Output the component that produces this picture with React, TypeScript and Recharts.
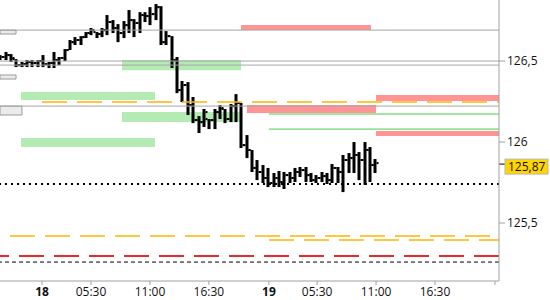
import React from 'react';
import { ComposedChart, Bar, XAxis, YAxis, ReferenceLine, ReferenceArea } from 'recharts';

// 30-minute OHLC bars (index = bar slot)
const highs = [126.537,126.556,126.543,126.512,126.494,126.506,126.506,126.506,126.537,126.494,126.556,126.525,126.574,126.630,126.648,126.654,126.679,126.704,126.679,126.704,126.784,126.753,126.728,126.747,126.815,126.759,126.802,126.802,126.833,126.852,126.839,126.685,126.654,126.525,126.377,126.370,126.278,126.160,126.204,126.142,126.204,126.228,126.204,126.235,126.296,126.241,126.043,125.951,125.889,125.858,125.840,125.809,125.821,125.815,125.815,125.840,125.846,125.846,125.809,125.796,125.815,125.809,125.864,125.846,125.920,125.932,126.000,125.938,126.000,125.969,125.895];
const lows = [126.506,126.506,126.494,126.463,126.463,126.463,126.463,126.463,126.463,126.457,126.457,126.475,126.500,126.568,126.599,126.599,126.642,126.660,126.642,126.648,126.660,126.673,126.617,126.642,126.673,126.648,126.673,126.741,126.722,126.753,126.599,126.599,126.457,126.302,126.247,126.167,126.117,126.056,126.093,126.080,126.080,126.142,126.117,126.123,126.123,125.963,125.901,125.815,125.765,125.747,125.722,125.722,125.722,125.710,125.747,125.753,125.784,125.753,125.753,125.747,125.753,125.741,125.747,125.747,125.691,125.809,125.809,125.765,125.735,125.753,125.809];
const opens = [126.525,126.525,126.537,126.512,126.475,126.481,126.494,126.488,126.500,126.481,126.488,126.506,126.519,126.568,126.617,126.630,126.648,126.673,126.679,126.667,126.691,126.741,126.704,126.673,126.722,126.753,126.735,126.784,126.778,126.790,126.833,126.617,126.654,126.506,126.321,126.352,126.228,126.136,126.123,126.142,126.136,126.185,126.204,126.142,126.222,126.241,125.981,125.951,125.840,125.815,125.778,125.747,125.778,125.753,125.796,125.778,125.815,125.827,125.796,125.765,125.778,125.790,125.765,125.840,125.815,125.889,125.901,125.920,125.889,125.951,125.858];
const closes = [126.525,126.537,126.519,126.475,126.481,126.494,126.488,126.500,126.481,126.488,126.506,126.519,126.568,126.617,126.630,126.648,126.673,126.691,126.667,126.691,126.741,126.704,126.673,126.722,126.753,126.735,126.784,126.778,126.790,126.833,126.617,126.654,126.506,126.321,126.352,126.228,126.136,126.123,126.185,126.136,126.185,126.210,126.142,126.222,126.241,125.981,125.951,125.840,125.815,125.778,125.747,125.778,125.753,125.796,125.778,125.815,125.827,125.796,125.765,125.778,125.790,125.765,125.840,125.815,125.889,125.901,125.920,125.889,125.951,125.858,125.870];

const tickPositions = [7.84, 16.99, 28.0, 39.0, 50.2, 59.2, 70.2, 81.2, 92.4];
const tickLabels = ['18', '05:30', '11:00', '16:30', '19', '05:30', '11:00', '16:30', ''];
const dayLabels = ['18', '19'];
const priceTicks = [125.5, 126, 126.5];
const lastPrice = 125.87;
const lastPriceLabel = '125,87';

const grayLevels = [126.691, 126.5, 126.475, 126.222];
const greenZoneX1 = [3.92, 3.92, 22.77, 22.77];
const greenZoneX2 = [28.93, 28.93, 44.99, 44.99];
const greenZoneTop = [126.309, 126.025, 126.506, 126.185];
const greenZoneBottom = [126.259, 125.969, 126.444, 126.123];
const redZoneX1 = [44.99, 46.1, 70.2, 70.2];
const redZoneX2 = [69.25, 70.2, 93.15, 93.15];
const redZoneTop = [126.722, 126.228, 126.290, 126.068];
const redZoneBottom = [126.691, 126.179, 126.253, 126.037];
const greenLineLevels = [126.173, 126.080];
const greenLineStart = 50.2;
const orangeLevels = [126.247, 125.420, 125.395];
const orangeStarts = [7.84, 1.87, 50.2];
const redDashLevel = 125.296;
const blackDashLevel = 125.259;
const dottedLevel = 125.741;
const boxX2 = [2.99, 2.99, 4.1];
const boxTop = [126.691, 126.414, 126.222];
const boxBottom = [126.667, 126.389, 126.167];

const X_MAX = 93.15;
const Y_MIN = 125.142;
const Y_MAX = 126.877;

const data = highs.map((h, i) => ({
  i,
  high: h,
  low: lows[i],
  open: opens[i],
  close: closes[i],
  range: [lows[i], h],
}));

const OhlcShape = (props: any) => {
  const { x, y, width, height, payload } = props;
  const top = Math.min(y, y + height);
  const h = Math.abs(height);
  const span = payload.high - payload.low;
  const k = span > 0 ? h / span : 0;
  const cx = Math.round(x + width / 2);
  const oy = top + (payload.high - payload.open) * k;
  const cy = top + (payload.high - payload.close) * k;
  return (
    <g fill="#000">
      <rect x={cx - 1.5} y={top} width={3} height={Math.max(h, 1)} />
      <rect x={cx - 3.5} y={oy - 1} width={2} height={2} />
      <rect x={cx + 1.5} y={cy - 1} width={2} height={2} />
    </g>
  );
};

const XTick = (props: any) => {
  const { x, y, index } = props;
  const label = tickLabels[index] ?? '';
  const bold = dayLabels.includes(label);
  return (
    <text x={x} y={y} dy="0.71em" textAnchor="middle" fontSize={12} fontFamily="Open Sans" fill="#111" fontWeight={bold ? 700 : 400}>
      {label}
    </text>
  );
};

const PriceTag = (props: any) => {
  const vb = props.viewBox || {};
  const right = (vb.x || 0) + (vb.width || 0);
  const yy = vb.y || 0;
  return (
    <g>
      <line x1={right} x2={right + 6} y1={yy + 1} y2={yy + 1} stroke="#000" strokeWidth={1} />
      <rect x={right + 6} y={yy - 4} width={43} height={15} fill="#ffd400" stroke="#b8b8b8" />
      <text x={right + 9} y={yy + 8} fontSize={12} fontFamily="Open Sans" fill="#111">{lastPriceLabel}</text>
    </g>
  );
};

export default function App() {
  return (
    <div style={{ position: 'absolute', left: 0, top: 0, background: '#fff' }}>
      <ComposedChart width={550} height={300} data={data} margin={{ top: 0, right: 0, bottom: 0, left: 0 }}>
        <XAxis
          dataKey="i"
          type="number"
          domain={[0, X_MAX]}
          allowDataOverflow
          ticks={tickPositions}
          interval={0}
          tick={<XTick />}
          tickSize={4}
          height={19}
          stroke="#a0a0a0"
          tickLine={{ stroke: '#a0a0a0' }}
          axisLine={{ stroke: '#a0a0a0' }}
        />
        <YAxis
          orientation="right"
          type="number"
          domain={[Y_MIN, Y_MAX]}
          allowDataOverflow
          ticks={priceTicks}
          interval={0}
          width={51}
          tickSize={6}
          tickFormatter={(v: number) => String(v).replace('.', ',')}
          tick={{ fill: '#111', fontSize: 12, fontFamily: 'Open Sans' }}
          tickLine={{ stroke: '#a0a0a0' }}
          axisLine={{ stroke: '#a0a0a0' }}
        />
        {greenZoneTop.map((t, k) => (
          <ReferenceArea key={'g' + k} x1={greenZoneX1[k]} x2={greenZoneX2[k]} y1={greenZoneBottom[k]} y2={t} fill="#b4ebb4" fillOpacity={1} stroke="none" />
        ))}
        {redZoneTop.map((t, k) => (
          <ReferenceArea key={'r' + k} x1={redZoneX1[k]} x2={redZoneX2[k]} y1={redZoneBottom[k]} y2={t} fill="#ff9494" fillOpacity={1} stroke="none" />
        ))}
        {grayLevels.map((p, k) => (
          <ReferenceLine key={'gl' + k} y={p} stroke="#a6a6a6" strokeWidth={1} />
        ))}
        {boxTop.map((t, k) => (
          <ReferenceArea key={'b' + k} x1={0} x2={boxX2[k]} y1={boxBottom[k]} y2={t} fill="#ebebeb" fillOpacity={1} stroke="#9a9a9a" strokeWidth={1} />
        ))}
        {greenLineLevels.map((p, k) => (
          <ReferenceLine key={'gr' + k} segment={[{ x: greenLineStart, y: p }, { x: X_MAX, y: p }]} stroke="#4cc94c" strokeWidth={1} />
        ))}
        {orangeLevels.map((p, k) => (
          <ReferenceLine key={'o' + k} segment={[{ x: orangeStarts[k], y: p }, { x: X_MAX, y: p }]} stroke="#ffb400" strokeWidth={1.5} strokeDasharray="25 10" />
        ))}
        <ReferenceLine y={redDashLevel} stroke="#e82a2a" strokeWidth={2} strokeDasharray="25 10" />
        <ReferenceLine y={blackDashLevel} stroke="#000" strokeWidth={1} strokeDasharray="4 3" />
        <ReferenceLine y={dottedLevel} stroke="#000" strokeWidth={2} strokeDasharray="2 4" />
        <Bar dataKey="range" isAnimationActive={false} shape={<OhlcShape />} barSize={2} />
        <ReferenceLine y={lastPrice} stroke="none" ifOverflow="visible" label={<PriceTag />} />
      </ComposedChart>
    </div>
  );
}
